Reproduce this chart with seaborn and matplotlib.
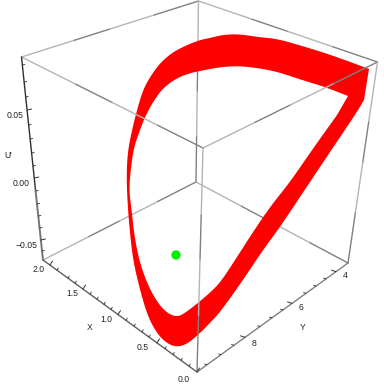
import numpy as np
import pandas as pd
import matplotlib
matplotlib.use("Agg")
import matplotlib.pyplot as plt
from matplotlib.path import Path
from matplotlib.patches import PathPatch
import seaborn as sns

# box corners as seen in the picture
A = (21.5, 57); B = (198.5, 1); C = (377.5, 62); D = (203, 148)
E = (43, 260); F = (197, 372); G = (348, 263); H = (196, 182)
back_edges = [(A, B), (B, C), (E, H), (H, G), (B, H)]
front_edges = [(A, D), (D, C), (D, F), (C, G)]

# outer outline of the red band, from the tip round to the strip end
outer_x = [369, 345, 322, 302, 278, 258, 238, 222, 210, 200, 187, 173, 160, 150, 143, 137, 132, 127.5, 126.5, 128, 130, 133, 140, 148, 158, 168, 177,
           187, 198, 210, 221, 243, 263, 280, 300, 330, 355, 364]
outer_y = [69, 60, 52, 46, 39, 37, 34, 35, 38, 40, 45, 52, 63, 77, 90, 110, 130, 153, 180, 210, 233, 260, 290, 317, 335, 344, 347,
           344, 335, 323, 311, 280, 250, 227, 197, 152, 115, 100]
# inner outline (the hole), from the inner corner round to the strip
inner_x = [348, 325, 302, 278, 258, 238, 222, 210, 190, 177, 163, 153, 145, 140, 134, 131, 129, 132, 134, 139, 147, 157, 167, 177,
           185, 198, 213, 222, 237, 253, 270, 290, 312, 337]
inner_y = [96, 87, 80, 72, 68, 66, 67, 69, 73, 78, 88, 102, 117, 130, 147, 167, 190, 213, 233, 260, 283, 302, 313, 317,
           313, 303, 290, 280, 257, 232, 207, 182, 150, 115]

# green point
point_x = [176]
point_y = [255]

# axes: tick pixel anchors
z_major_px = [110, 178, 240]
z_minor_px = [65, 82, 97, 125, 139, 153, 166, 191, 204, 216, 228, 251]
x_major_vals = ["2.0", "1.5", "1.0", "0.5", "0.0"]
x_major_px = [50, 83, 118, 157, 197]
x_minor_px = [57, 68, 75, 90, 97, 104, 111, 126, 134, 142, 149, 165, 173, 181, 189]
y_major_vals = ["8", "6", "4"]
y_major_px = [245, 292, 336]
y_minor_px = [207, 221, 234, 260, 272, 283, 306, 316, 326]

fig = plt.figure(figsize=(3.84, 3.84), dpi=100)
ax = fig.add_axes([0, 0, 1, 1])
sns.set_style("white")
ax.set_xlim(0, 384)
ax.set_ylim(384, 0)
ax.axis("off")


def seg(p, q, color, lw=1.0, z=1):
    df = pd.DataFrame({"x": [p[0], q[0]], "y": [p[1], q[1]]})
    sns.lineplot(data=df, x="x", y="y", sort=False, estimator=None, color=color, lw=lw, ax=ax, zorder=z)


def edge(p, q, z=1):
    # the original lines alternate between a light and a darker grey
    cuts = [0, 0.3, 0.5, 0.75, 1]
    cols = ["#b4b4b4", "#808080", "#b4b4b4", "#808080"]
    p = np.array(p, float); q = np.array(q, float)
    for a, b, c in zip(cuts[:-1], cuts[1:], cols):
        seg(p + a * (q - p), p + b * (q - p), c, z=z)


def smooth(xs, ys, n=2):
    # corner cutting for the outline drawing, ends stay where they are
    pts = np.column_stack([xs, ys]).astype(float)
    for _ in range(n):
        a, b = pts[:-1], pts[1:]
        q = 0.75 * a + 0.25 * b
        r = 0.25 * a + 0.75 * b
        mid = np.empty((2 * len(a), 2))
        mid[0::2], mid[1::2] = q, r
        pts = np.vstack([pts[:1], mid, pts[-1:]])
    return pts


for p, q in back_edges:
    edge(p, q, z=1)

outer = smooth(outer_x, outer_y)
inner = smooth(inner_x, inner_y)[::-1]
verts = np.vstack([outer, outer[:1], inner, inner[:1]])
codes = ([Path.MOVETO] + [Path.LINETO] * (len(outer) - 1) + [Path.CLOSEPOLY]
         + [Path.MOVETO] + [Path.LINETO] * (len(inner) - 1) + [Path.CLOSEPOLY])
ax.add_patch(PathPatch(Path(verts, codes), facecolor="#ff0000", edgecolor="none", lw=0, zorder=2))

sns.scatterplot(x=point_x, y=point_y, s=45, color="#00f000", edgecolor="none", ax=ax, zorder=4)

for p, q in front_edges:
    edge(p, q, z=5)
seg(A, (35.5, 190), "#303030", 1.0, 5)
seg((35.5, 190), E, "#757575", 1.4, 5)
seg(E, F, "#606060", 1.0, 5)
seg(F, G, "#808080", 1.0, 5)


def on_z(y):
    t = (y - A[1]) / (E[1] - A[1])
    return A[0] + t * (E[0] - A[0])


def on_x(x):
    t = (x - E[0]) / (F[0] - E[0])
    return E[1] + t * (F[1] - E[1])


def on_y(x):
    t = (x - F[0]) / (G[0] - F[0])
    return F[1] + t * (G[1] - F[1])


tc = "#303030"
for y in z_major_px:
    ax.plot([on_z(y), on_z(y) + 4.5], [y, y - 1], color=tc, lw=0.7, zorder=6)
for y in z_minor_px:
    ax.plot([on_z(y), on_z(y) + 2.5], [y, y - 0.5], color=tc, lw=0.6, zorder=6)
for x in x_major_px:
    ax.plot([x, x + 2.5], [on_x(x), on_x(x) - 4], color=tc, lw=0.7, zorder=6)
for x in x_minor_px:
    ax.plot([x, x + 1.3], [on_x(x), on_x(x) - 2.2], color=tc, lw=0.6, zorder=6)
for x in y_major_px:
    ax.plot([x, x - 4.5], [on_y(x), on_y(x) - 1.5], color=tc, lw=0.7, zorder=6)
for x in y_minor_px:
    ax.plot([x, x - 2.5], [on_y(x), on_y(x) - 0.8], color=tc, lw=0.6, zorder=6)

fs = 6.2


def label(x, y, s):
    ax.text(x, y, s, fontsize=fs, ha="center", va="center", color="#222222", family="Liberation Sans", zorder=7)


label(15, 116, "0.05")
label(21.5, 183, "0.00")
label(26, 245.5, "\u22120.05")
label(8, 155, "U'")
for s, x, y in zip(x_major_vals, [39, 72, 106, 143, 184], [270, 294, 320, 348, 380]):
    label(x, y, s)
label(90, 328, "X")
for s, x, y in zip(y_major_vals, [254, 301, 345], [343, 307, 275]):
    label(x, y, s)
label(303, 327, "Y")

fig.savefig("out.png", dpi=100)
